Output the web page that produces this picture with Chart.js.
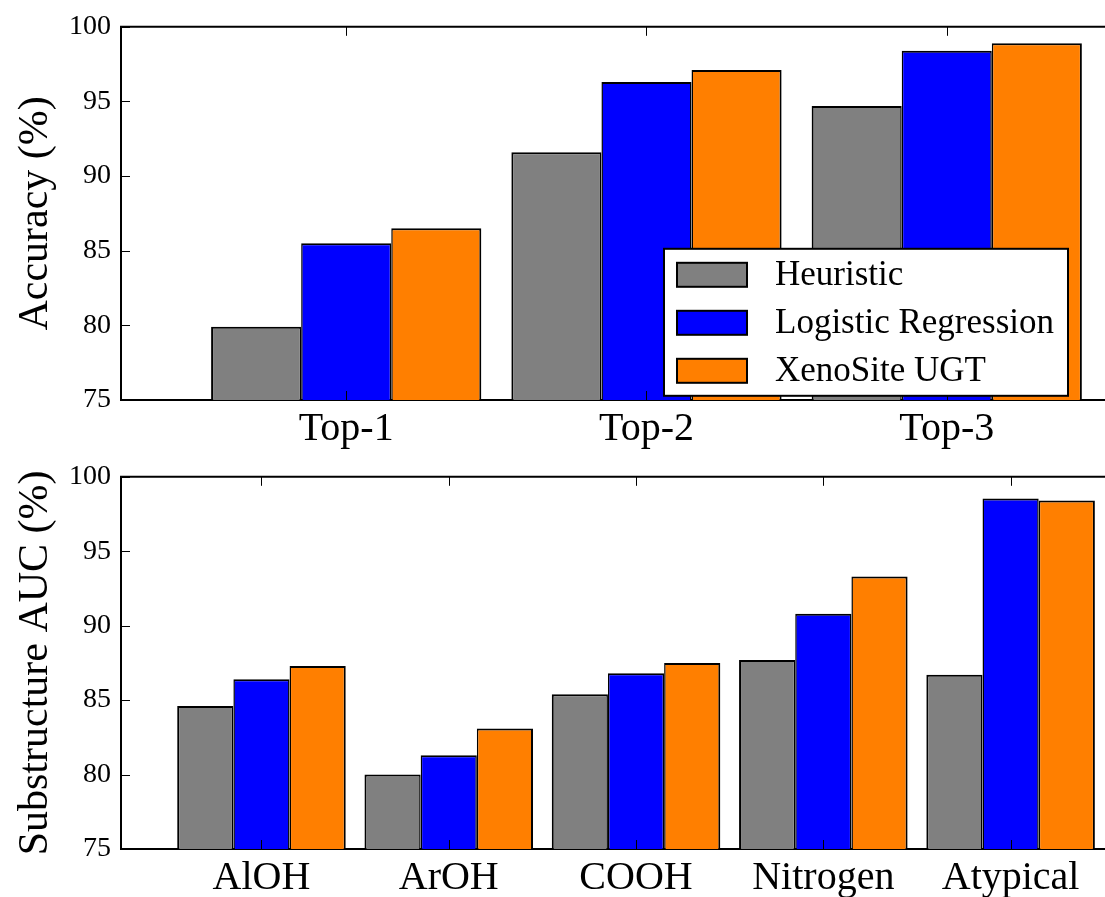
<!DOCTYPE html>
<html>
<head>
<meta charset="utf-8">
<script src="https://cdn.jsdelivr.net/npm/chart.js@4.4.1/dist/chart.umd.min.js"></script>
<style>
  html, body { margin: 0; padding: 0; background: #fff; }
  #page { position: relative; width: 1105px; height: 897px; overflow: hidden; }
  .panel { position: absolute; left: 0; width: 1105px; }
  #top { top: 0; height: 450px; }
  #bottom { top: 450px; height: 447px; }
</style>
</head>
<body>
<div id="page">
  <div class="panel" id="top"><canvas id="accuracy"></canvas></div>
  <div class="panel" id="bottom"><canvas id="substructure"></canvas></div>
</div>
<script>
const seriesNames = ['Heuristic', 'Logistic Regression', 'XenoSite UGT']
const seriesColors = ['#808080', '#0000ff', '#ff7f00']

// top-k accuracy
const rankLabels = ['Top-1', 'Top-2', 'Top-3']
const heuristicAcc = [79.9, 91.6, 94.7]
const logisticAcc = [85.5, 96.3, 98.4]
const xenositeAcc = [86.5, 97.1, 98.9]

// per-substructure AUC
const substructureLabels = ['AlOH', 'ArOH', 'COOH', 'Nitrogen', 'Atypical']
const heuristicAuc = [84.6, 80.0, 85.4, 87.7, 86.7]
const logisticAuc = [86.4, 81.3, 86.8, 90.8, 98.55]
const xenositeAuc = [87.3, 83.1, 87.5, 93.3, 98.4]

const yTicks = [75, 80, 85, 90, 95, 100]

const SERIF = '"Liberation Serif", "DejaVu Serif", serif'
const BLACK = '#000'

// shared edges between neighbouring bars stay about 2px wide
const edgeWidths = [
  { top: 2, left: 2, right: 1.5, bottom: 0 },
  { top: 2, left: 1.5, right: 1.5, bottom: 0 },
  { top: 2, left: 1.5, right: 2, bottom: 0 }
]

function makeDatasets(seriesValues) {
  return seriesValues.map((values, s) => ({
    label: seriesNames[s],
    data: values.map((y, i) => ({ x: i, y })),
    backgroundColor: seriesColors[s],
    borderColor: BLACK,
    borderWidth: edgeWidths[s],
    borderSkipped: 'start',
    inflateAmount: 0,
    categoryPercentage: 0.9,
    barPercentage: 1.0
  }))
}

// top spine plus inward tick marks on all visible sides
const framePlugin = {
  id: 'frame',
  afterDatasetsDraw(chart) {
    const { ctx, chartArea } = chart
    const x = chart.scales.x
    const y = chart.scales.y
    const len = 9
    ctx.save()
    ctx.strokeStyle = BLACK
    ctx.lineWidth = 1
    ctx.beginPath()
    x.ticks.forEach((t) => {
      const px = Math.round(x.getPixelForValue(t.value)) + 0.5
      ctx.moveTo(px, chartArea.top)
      ctx.lineTo(px, chartArea.top + len)
      ctx.moveTo(px, chartArea.bottom)
      ctx.lineTo(px, chartArea.bottom - len)
    })
    yTicks.forEach((v) => {
      const py = Math.round(y.getPixelForValue(v)) + 0.5
      ctx.moveTo(chartArea.left, py)
      ctx.lineTo(chartArea.left + len, py)
    })
    ctx.stroke()
    ctx.lineWidth = 2
    ctx.beginPath()
    ctx.moveTo(chartArea.left - 1, chartArea.top)
    ctx.lineTo(chart.width, chartArea.top)
    ctx.stroke()
    ctx.restore()
  }
}

// boxed legend sitting over the bars, lower right
const boxLegendPlugin = {
  id: 'boxLegend',
  afterDatasetsDraw(chart, args, opts) {
    if (!opts.show) return
    const { ctx, chartArea } = chart
    const bx = chartArea.left + 543
    const by = chartArea.top + 222
    const bw = 404
    const bh = 147
    ctx.save()
    ctx.fillStyle = '#fff'
    ctx.fillRect(bx, by, bw, bh)
    ctx.strokeStyle = BLACK
    ctx.lineWidth = 2
    ctx.strokeRect(bx, by, bw, bh)
    ctx.font = '35px ' + SERIF
    ctx.textBaseline = 'middle'
    ctx.textAlign = 'left'
    chart.data.datasets.forEach((ds, i) => {
      const cy = by + 26 + i * 48
      ctx.fillStyle = ds.backgroundColor
      ctx.fillRect(bx + 13, cy - 12, 70, 24)
      ctx.lineWidth = 2
      ctx.strokeRect(bx + 13, cy - 12, 70, 24)
      ctx.fillStyle = BLACK
      ctx.fillText(ds.label, bx + 111, cy + 1)
    })
    ctx.restore()
  }
}

function makeChart(canvasId, labels, seriesValues, yTitle, xMax, xAxisHeight, showLegend) {
  return new Chart(document.getElementById(canvasId), {
    type: 'bar',
    data: { datasets: makeDatasets(seriesValues) },
    options: {
      responsive: true,
      maintainAspectRatio: false,
      animation: false,
      layout: { padding: { top: 26, right: 0, left: 0, bottom: 0 } },
      plugins: {
        legend: { display: false },
        tooltip: { enabled: false },
        boxLegend: { show: showLegend }
      },
      scales: {
        x: {
          type: 'linear',
          offset: false,
          min: -0.75,
          max: xMax,
          grid: { display: false, drawTicks: false },
          border: { display: true, color: BLACK, width: 2 },
          afterBuildTicks: (scale) => {
            scale.ticks = labels.map((_, i) => ({ value: i }))
          },
          afterFit: (scale) => {
            scale.height = xAxisHeight
          },
          ticks: {
            autoSkip: false,
            maxRotation: 0,
            padding: 5,
            color: BLACK,
            font: { family: SERIF, size: 40 },
            callback: (v) => labels[v]
          }
        },
        y: {
          min: 75,
          max: 100,
          grid: { display: false, drawTicks: false },
          border: { display: true, color: BLACK, width: 2 },
          afterBuildTicks: (scale) => {
            scale.ticks = yTicks.map((v) => ({ value: v }))
          },
          afterFit: (scale) => {
            scale.width = 121
          },
          ticks: {
            padding: 10,
            color: BLACK,
            font: { family: SERIF, size: 28 },
            callback: (v) => String(v)
          },
          title: {
            display: true,
            text: yTitle,
            color: BLACK,
            padding: { top: 11, bottom: 0 },
            font: { family: SERIF, size: 42 }
          }
        }
      }
    },
    plugins: [framePlugin, boxLegendPlugin]
  })
}

makeChart('accuracy', rankLabels, [heuristicAcc, logisticAcc, xenositeAcc],
  'Accuracy (%)', 2.527, 50, true)
makeChart('substructure', substructureLabels, [heuristicAuc, logisticAuc, xenositeAuc],
  'Substructure AUC (%)', 4.504, 48, false)
</script>
</body>
</html>
